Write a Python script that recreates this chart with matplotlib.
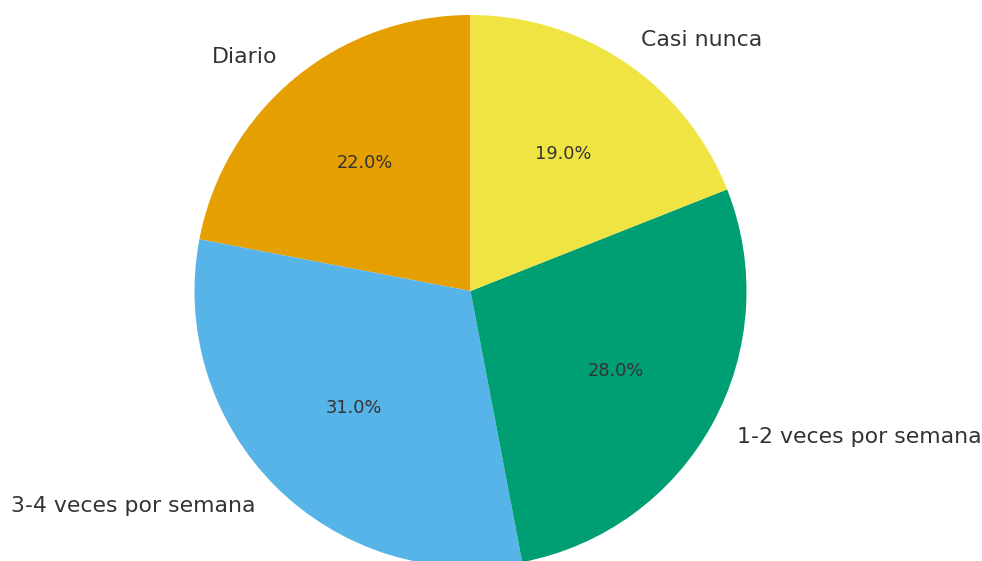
import matplotlib
matplotlib.use("Agg")
import matplotlib.pyplot as plt

categories = ["Diario", "3-4 veces por semana", "1-2 veces por semana", "Casi nunca"]
values = [22.0, 31.0, 28.0, 19.0]
colors = ["#E69F00", "#56B4E9", "#009E73", "#F0E442"]

W, H = 982, 561
fig = plt.figure(figsize=(W / 100, H / 100), dpi=100)
ax = fig.add_axes([0, 0, 1, 1])

cx, cy, r = 470.5, 291.0, 276.0
wedges, texts, autotexts = ax.pie(
    values, labels=categories, colors=colors, autopct="%1.1f%%",
    startangle=90, counterclock=True,
    textprops={"fontsize": 15.8, "color": "#333333"},
)
for t in autotexts:
    t.set_fontsize(12.8)
    t.set_color("#333333")

ax.set_aspect("auto")
ax.set_xlim(-cx / r, (W - cx) / r)
ax.set_ylim(-(H - cy) / r, cy / r)
ax.axis("off")

fig.savefig("out.png", dpi=100)
